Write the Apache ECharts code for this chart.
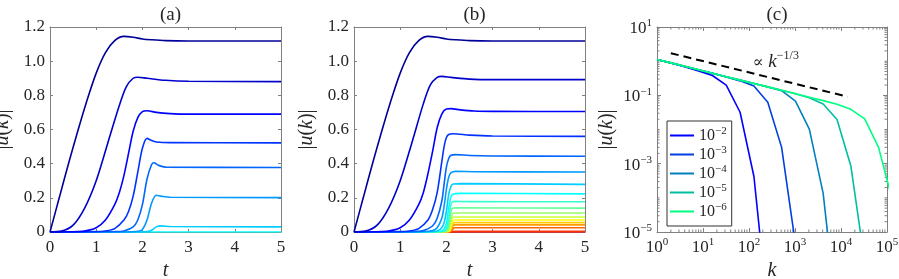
<!DOCTYPE html>
<html><head><meta charset="utf-8">
<script src="https://cdn.jsdelivr.net/npm/echarts@6/dist/echarts.min.js"></script>
<style>html,body{margin:0;padding:0;background:#fff}#c{width:899px;height:279px}</style>
</head><body><div id="c"></div>
<script>
// ---------- DATA ----------
// Panel (a): [t, |u(k)|] for k = 1,2,4,...,128 (nu = 1e-2)
const a_k1 = [[0,0],[0.2,0.2],[0.4,0.4],[0.6,0.59],[0.8,0.77],[1.0,0.93],[1.2,1.05],[1.4,1.12],[1.6,1.145],[1.8,1.14],[2.0,1.13],[2.2,1.125],[2.5,1.12],[3,1.118],[5,1.118]];
const a_k2 = [[0,0],[0.25,0.005],[0.5,0.04],[0.75,0.14],[1.0,0.3],[1.25,0.52],[1.5,0.74],[1.65,0.85],[1.8,0.9],[1.9,0.906],[2.1,0.9],[2.5,0.888],[3,0.882],[5,0.88]];
const a_k4 = [[0,0],[0.6,0.002],[0.8,0.008],[1.0,0.025],[1.2,0.07],[1.4,0.16],[1.5,0.23],[1.6,0.33],[1.7,0.46],[1.8,0.59],[1.9,0.67],[2.0,0.705],[2.1,0.71],[2.3,0.7],[2.6,0.693],[3,0.69],[5,0.69]];
const a_k8 = [[0,0],[1.0,0.002],[1.2,0.006],[1.4,0.02],[1.6,0.07],[1.7,0.12],[1.8,0.21],[1.9,0.35],[2.0,0.49],[2.1,0.548],[2.2,0.535],[2.3,0.527],[2.6,0.523],[5,0.522]];
const a_k16 = [[0,0],[1.4,0.002],[1.6,0.006],[1.8,0.03],[1.9,0.07],[2.0,0.16],[2.1,0.31],[2.2,0.395],[2.25,0.405],[2.35,0.39],[2.5,0.38],[5,0.378]];
const a_k32 = [[0,0],[1.7,0.001],[1.9,0.004],[2.0,0.015],[2.1,0.07],[2.2,0.17],[2.3,0.215],[2.4,0.21],[2.6,0.203],[5,0.201]];
const a_k64 = [[0,0],[2.0,0.0005],[2.1,0.002],[2.2,0.01],[2.3,0.03],[2.4,0.036],[2.6,0.032],[5,0.03]];
const a_k128 = [[0,0],[5,0.0004]];
const panelA = [a_k1,a_k2,a_k4,a_k8,a_k16,a_k32,a_k64,a_k128];

// Panel (b): [t, |u(k)|] for k = 1..2^17 (nu = 1e-6)
const b_k1 = [[0,0],[0.2,0.2],[0.4,0.4],[0.6,0.59],[0.8,0.77],[1.0,0.93],[1.2,1.05],[1.4,1.12],[1.6,1.145],[1.8,1.14],[2.0,1.13],[2.2,1.125],[2.5,1.12],[3,1.118],[5,1.118]];
const b_k2 = [[0,0],[0.25,0.005],[0.5,0.04],[0.75,0.14],[1.0,0.3],[1.25,0.52],[1.5,0.75],[1.65,0.86],[1.8,0.905],[1.9,0.911],[2.1,0.905],[2.5,0.895],[3,0.892],[5,0.892]];
const b_k4 = [[0,0],[0.6,0.002],[0.8,0.008],[1.0,0.025],[1.2,0.07],[1.4,0.16],[1.5,0.23],[1.6,0.34],[1.7,0.47],[1.8,0.61],[1.9,0.69],[2.0,0.72],[2.1,0.722],[2.3,0.715],[2.6,0.708],[3,0.706],[5,0.705]];
const b_k8 = [[0,0],[1.0,0.002],[1.2,0.006],[1.4,0.02],[1.6,0.07],[1.7,0.13],[1.8,0.23],[1.9,0.41],[1.95,0.5],[2.0,0.553],[2.05,0.571],[2.15,0.575],[2.5,0.567],[3,0.562],[5,0.56]];
const b_k16 = [[0,0],[1.3,0.002],[1.5,0.008],[1.7,0.035],[1.8,0.08],[1.9,0.18],[1.95,0.28],[2.0,0.38],[2.05,0.43],[2.1,0.449],[2.2,0.453],[2.5,0.448],[3,0.445],[5,0.443]];
const b_k32 = [[0,0],[1.5,0.002],[1.7,0.008],[1.8,0.025],[1.9,0.08],[1.95,0.15],[2.0,0.25],[2.05,0.32],[2.1,0.347],[2.2,0.355],[2.6,0.353],[5,0.351]];
const b_k64 = [[0,0],[1.7,0.002],[1.8,0.006],[1.9,0.025],[1.95,0.055],[2.0,0.12],[2.05,0.22],[2.1,0.268],[2.15,0.281],[2.3,0.283],[5,0.279]];
const b_k128 = [[0,0],[1.8,0.002],[1.9,0.006],[1.95,0.018],[2.0,0.05],[2.05,0.14],[2.1,0.208],[2.15,0.223],[2.3,0.226],[5,0.223]];
const b_k256 = [[0,0],[1.88,0.002],[1.95,0.006],[2.0,0.022],[2.05,0.08],[2.09,0.15],[2.12,0.174],[2.2,0.179],[2.5,0.178],[5,0.177]];
const b_k512 = [[0,0],[1.93,0.002],[1.99,0.006],[2.03,0.02],[2.07,0.07],[2.1,0.12],[2.13,0.138],[2.2,0.141],[5,0.14]];
const b_k1024 = [[0,0],[1.96,0.002],[2.02,0.006],[2.05,0.02],[2.09,0.07],[2.12,0.1],[2.15,0.11],[2.25,0.111],[5,0.111]];
const b_k2048 = [[0,0],[1.99,0.002],[2.04,0.006],[2.07,0.02],[2.1,0.06],[2.13,0.084],[2.16,0.088],[5,0.088]];
const b_k4096 = [[0,0],[2.01,0.002],[2.06,0.006],[2.09,0.02],[2.12,0.053],[2.15,0.068],[2.2,0.07],[5,0.07]];
const b_k8192 = [[0,0],[2.03,0.002],[2.07,0.006],[2.1,0.02],[2.13,0.045],[2.16,0.054],[2.22,0.055],[5,0.055]];
const b_k16384 = [[0,0],[2.05,0.002],[2.08,0.005],[2.11,0.015],[2.14,0.035],[2.17,0.042],[5,0.042]];
const b_k32768 = [[0,0],[2.07,0.001],[2.09,0.003],[2.12,0.01],[2.15,0.021],[2.18,0.025],[5,0.025]];
const b_k65536 = [[0,0],[2.1,0.001],[2.14,0.003],[2.18,0.004],[5,0.004]];
const b_k131072 = [[0,0],[5,0.0001]];
const panelB = [b_k1,b_k2,b_k4,b_k8,b_k16,b_k32,b_k64,b_k128,b_k256,b_k512,b_k1024,b_k2048,b_k4096,b_k8192,b_k16384,b_k32768,b_k65536,b_k131072];

// Panel (c): spectrum |u(k)| at k = 2^n for five viscosities
const kValues = [1,2,4,8,16,32,64,128,256,512,1024,2048,4096,8192,16384,32768,65536,131072];
const c_nu1e2 = [1.12,0.88,0.69,0.52,0.38,0.20,0.032,4.2e-4,5e-8];
const c_nu1e3 = [1.12,0.89,0.70,0.555,0.44,0.345,0.265,0.187,0.063,0.003,4.4e-6];
const c_nu1e4 = [1.12,0.892,0.706,0.56,0.443,0.351,0.279,0.222,0.175,0.137,0.068,0.0103,1.35e-4,3e-8];
const c_nu1e5 = [1.12,0.892,0.706,0.56,0.443,0.351,0.279,0.223,0.177,0.14,0.111,0.085,0.056,0.0195,8.6e-4,1.3e-6];
const c_nu1e6 = [1.12,0.892,0.706,0.56,0.443,0.351,0.279,0.223,0.177,0.14,0.111,0.088,0.07,0.055,0.039,0.0204,0.003,8.5e-5];
const panelC = [c_nu1e2,c_nu1e3,c_nu1e4,c_nu1e5,c_nu1e6];
const legendExp = ['−2','−3','−4','−5','−6'];
const slopeRef = [[2,1.71],[14000,0.091]];
const slopeLabelAt = [380,1.0];

const titles = ['(a)','(b)','(c)'];

// ---------- STYLE ----------
const jet = ['#000099','#0000CC','#0000FF','#0033FF','#0066FF','#0099FF','#00CCFF','#00FFFF','#33FFCC','#66FF99','#99FF66','#CCFF33','#FFFF00','#FFCC00','#FF9900','#FF6600','#FF3300','#FF0000'];
const winter = ['#0000FF','#0040DF','#0080BF','#00BF9F','#00FF80'];
const FONT = "'Liberation Serif','DejaVu Serif',serif";
const AX = '#808080';
const TXT = '#262626';
const TICK_FS = 17;
const NAME_FS = 20;
const grids = [
  {left:50, top:27, width:231, height:205, outerBoundsMode:'none', containLabel:false},
  {left:354, top:27, width:231, height:205, outerBoundsMode:'none', containLabel:false},
  {left:657, top:27, width:230, height:205, outerBoundsMode:'none', containLabel:false}
];

const nameRich = {i:{fontFamily:FONT, fontStyle:'italic', fontSize:NAME_FS, color:TXT}};
function lineAxisX(gi, top){
  return {type:'value', gridIndex:gi, position: top?'top':'bottom', min:0, max:5, interval:1,
    axisLine:{show:true, onZero:false, lineStyle:{color:AX,width:1}},
    axisTick:{show:true, inside:true, length:3, lineStyle:{color:AX}},
    axisLabel:{show:!top, color:TXT, fontFamily:FONT, fontSize:TICK_FS, margin:7},
    splitLine:{show:false},
    name: top?'':'t', nameLocation:'middle', nameGap:24,
    nameTextStyle:{fontFamily:FONT, fontStyle:'italic', fontSize:NAME_FS, color:TXT}};
}
function lineAxisY(gi, right, gap){
  return {type:'value', gridIndex:gi, position: right?'right':'left', min:0, max:1.2, interval:0.2,
    axisLine:{show:true, onZero:false, lineStyle:{color:AX,width:1}},
    axisTick:{show:true, inside:true, length:3, lineStyle:{color:AX}},
    axisLabel:{show:!right, color:TXT, fontFamily:FONT, fontSize:TICK_FS, margin:5,
      formatter: v => v===0 ? '0' : v.toFixed(1)},
    splitLine:{show:false},
    name: right?'':'|{i|u}({i|k})|', nameLocation:'middle', nameGap:gap, nameRotate:90,
    nameTextStyle:{fontFamily:FONT, fontSize:NAME_FS, color:TXT, rich:nameRich}};
}
const supRich = {
  b:{fontFamily:FONT, fontSize:TICK_FS, color:TXT, verticalAlign:'bottom', lineHeight:20},
  s:{fontFamily:FONT, fontSize:11, color:TXT, verticalAlign:'bottom', lineHeight:20, padding:[0,0,8,0]}
};
const legRich = {
  b:{fontFamily:FONT, fontSize:16, color:TXT, verticalAlign:'bottom', lineHeight:17},
  s:{fontFamily:FONT, fontSize:11, color:TXT, verticalAlign:'bottom', lineHeight:17, padding:[0,0,7,0]}
};
function expOf(v){ return Math.round(Math.log10(v)); }
function supFmt(v){ const e = expOf(v); return '{b|10}{s|' + (e<0?'−'+(-e):e) + '}'; }

const xAxes = [lineAxisX(0,false), lineAxisX(0,true), lineAxisX(1,false), lineAxisX(1,true),
  {type:'log', logBase:10, gridIndex:2, position:'bottom', min:1, max:1e5, interval:1,
    axisLine:{show:true, onZero:false, lineStyle:{color:AX}},
    axisTick:{show:true, inside:true, length:4, lineStyle:{color:AX}},
    axisLabel:{color:TXT, fontFamily:FONT, fontSize:TICK_FS, margin:4, formatter:supFmt, rich:supRich},
    splitLine:{show:false}, minorTick:{show:false},
    name:'k', nameLocation:'middle', nameGap:24,
    nameTextStyle:{fontFamily:FONT, fontStyle:'italic', fontSize:NAME_FS, color:TXT}},
  {type:'log', logBase:10, gridIndex:2, position:'top', min:1, max:1e5, interval:1,
    axisLine:{show:true, onZero:false, lineStyle:{color:AX}},
    axisTick:{show:true, inside:true, length:4, lineStyle:{color:AX}},
    axisLabel:{show:false}, splitLine:{show:false}}
];
const yAxes = [lineAxisY(0,false,37), lineAxisY(0,true), lineAxisY(1,false,37), lineAxisY(1,true),
  {type:'log', logBase:10, gridIndex:2, position:'left', min:1e-5, max:10, interval:2,
    axisLine:{show:true, onZero:false, lineStyle:{color:AX}},
    axisTick:{show:true, inside:true, length:4, lineStyle:{color:AX}},
    axisLabel:{color:TXT, fontFamily:FONT, fontSize:TICK_FS, margin:5, formatter:supFmt, rich:supRich},
    splitLine:{show:false},
    name:'|{i|u}({i|k})|', nameLocation:'middle', nameGap:40, nameRotate:90,
    nameTextStyle:{fontFamily:FONT, fontSize:NAME_FS, color:TXT, rich:nameRich}},
  {type:'log', logBase:10, gridIndex:2, position:'right', min:1e-5, max:10, interval:2,
    axisLine:{show:true, onZero:false, lineStyle:{color:AX}},
    axisTick:{show:true, inside:true, length:4, lineStyle:{color:AX}},
    axisLabel:{show:false}, splitLine:{show:false}}
];

const series = [];
// draw high-k curves first so low-k curves sit on top along the zero line
for (let i = panelA.length-1; i >= 0; i--) series.push({type:'line', xAxisIndex:0, yAxisIndex:0, data:panelA[i], showSymbol:false,
  smooth:0.3, lineStyle:{color:jet[i], width:1.6}, itemStyle:{color:jet[i]}, silent:true});
for (let i = panelB.length-1; i >= 0; i--) series.push({type:'line', xAxisIndex:2, yAxisIndex:2, data:panelB[i], showSymbol:false,
  smooth:0.3, lineStyle:{color:jet[i], width:1.6}, itemStyle:{color:jet[i]}, silent:true});
panelC.forEach((vals,i) => series.push({type:'line', name:'nu'+i, xAxisIndex:4, yAxisIndex:4,
  data: vals.map((u,j) => [kValues[j], u]), showSymbol:false, clip:true,
  lineStyle:{color:winter[i], width:1.6}, itemStyle:{color:winter[i]}, silent:true}));
series.push({type:'line', xAxisIndex:4, yAxisIndex:4, data:slopeRef, showSymbol:false,
  lineStyle:{color:'#000', width:2, type:[8,5]}, silent:true,
  markPoint:{symbol:'circle', symbolSize:0, silent:true, data:[{coord:slopeLabelAt,
    label:{show:true, position:'inside', formatter:'{b|∝ }{i|k}{s|−1/3}',
      rich:{b:{fontFamily:"'DejaVu Serif',serif", fontSize:16, color:TXT, verticalAlign:'bottom', lineHeight:20},
            i:{fontFamily:FONT, fontStyle:'italic', fontSize:19, color:TXT, verticalAlign:'bottom', lineHeight:20},
            s:{fontFamily:FONT, fontSize:12, color:TXT, verticalAlign:'bottom', lineHeight:20, padding:[0,0,9,0]}}}}]}});

// minor ticks for the log panel (2..9 in every decade)
const minorK = [], minorU = [];
for (let e=0;e<5;e++) for (let m=2;m<=9;m++) minorK.push(m*Math.pow(10,e));
for (let e=-5;e<1;e++) for (let m=1;m<=9;m++) if (!(m===1 && (e%2)!==0)) minorU.push(m*Math.pow(10,e));
series.push({type:'custom', xAxisIndex:4, yAxisIndex:4, silent:true, clip:false,
  data: minorK.map(v => [v, 1]),
  renderItem:(p, api) => {
    const x = api.coord([api.value(0), 1])[0];
    const cs = p.coordSys; const y0 = cs.y, y1 = cs.y+cs.height;
    return {type:'group', children:[
      {type:'line', shape:{x1:x,y1:y1,x2:x,y2:y1-2.5}, style:{stroke:AX, lineWidth:1}},
      {type:'line', shape:{x1:x,y1:y0,x2:x,y2:y0+2.5}, style:{stroke:AX, lineWidth:1}}]};
  }});
series.push({type:'custom', xAxisIndex:4, yAxisIndex:4, silent:true, clip:false,
  data: minorU.map(v => [1, v]),
  renderItem:(p, api) => {
    const y = api.coord([1, api.value(1)])[1];
    const cs = p.coordSys; const x0 = cs.x, x1 = cs.x+cs.width;
    return {type:'group', children:[
      {type:'line', shape:{x1:x0,y1:y,x2:x0+2.5,y2:y}, style:{stroke:AX, lineWidth:1}},
      {type:'line', shape:{x1:x1,y1:y,x2:x1-2.5,y2:y}, style:{stroke:AX, lineWidth:1}}]};
  }});

const chart = echarts.init(document.getElementById('c'), null, {renderer:'canvas'});
chart.setOption({
  animation:false, backgroundColor:'#fff',
  title: titles.map((t,i) => ({text:t, left: grids[i].left + grids[i].width/2, top:1, textAlign:'center',
    textStyle:{fontFamily:FONT, fontSize:19, fontWeight:'normal', color:TXT}})),
  grid: grids,
  xAxis: xAxes, yAxis: yAxes,
  legend:{show:true, orient:'vertical', left:667, top:121, data: ['nu0','nu1','nu2','nu3','nu4'],
    icon:'rect', itemWidth:24, itemHeight:2, itemGap:1, padding:[5,5,6,3],
    backgroundColor:'#fff', borderColor:'#333', borderWidth:1, borderRadius:0,
    formatter: n => '{b|10}{s|' + legendExp[+n.slice(2)] + '}',
    textStyle:{color:TXT, rich:legRich}},
  series: series
});
</script></body></html>
